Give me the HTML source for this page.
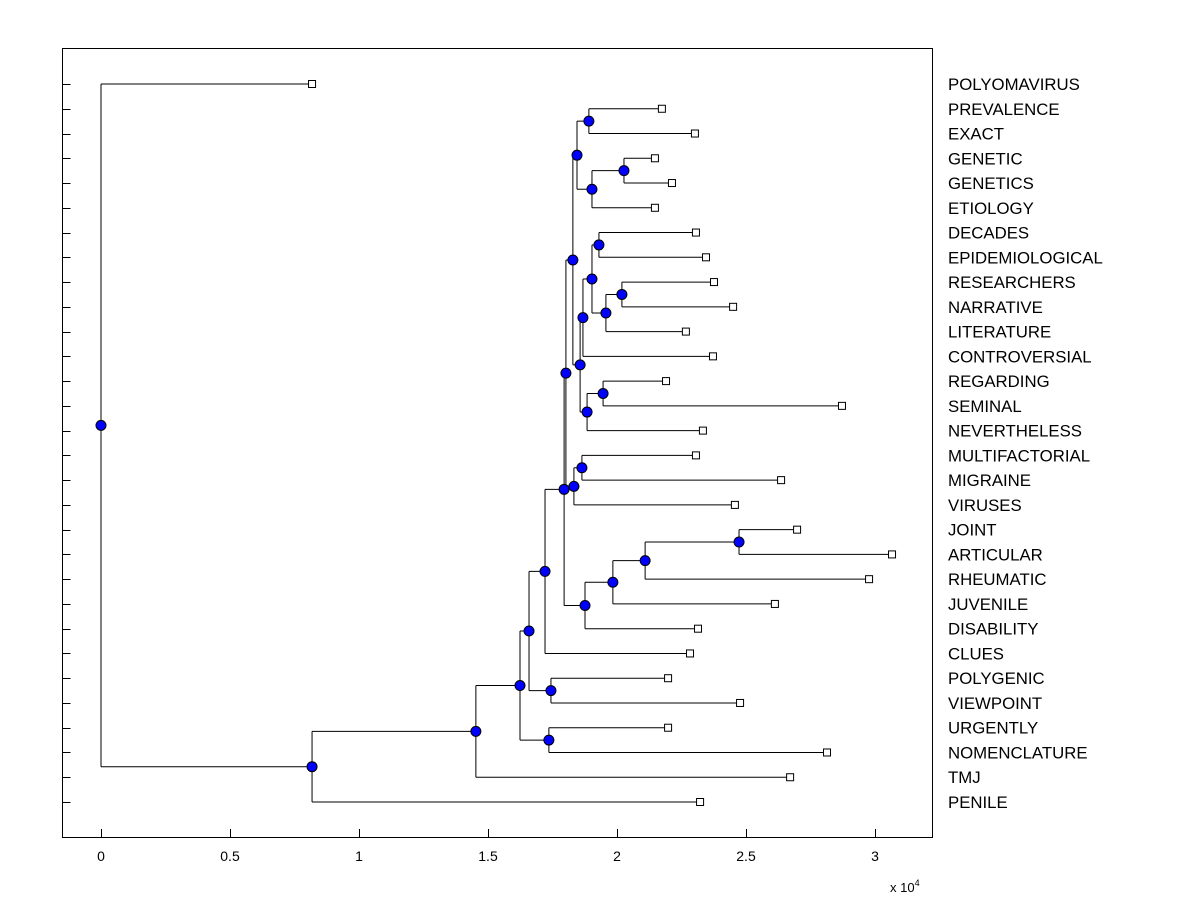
<!DOCTYPE html>
<html><head><meta charset="utf-8"><style>
body{margin:0;background:#fff;}
svg{display:block;font-family:"Liberation Sans",Arial,sans-serif;}
</style></head><body>
<svg id="chart" width="1200" height="900">
<rect x="0" y="0" width="1200" height="900" fill="#fff"/>
<rect x="62.5" y="48.5" width="870" height="789" fill="none" stroke="#000" stroke-width="1"/>
<g id="axes"></g>
<g id="tree"></g>
<g id="marks"></g>
<text x="890" y="892" font-size="13">x 10<tspan dy="-6" font-size="9">4</tspan></text>
</svg>
<script>
const leafNames = ["POLYOMAVIRUS","PREVALENCE","EXACT","GENETIC","GENETICS","ETIOLOGY","DECADES","EPIDEMIOLOGICAL","RESEARCHERS","NARRATIVE","LITERATURE","CONTROVERSIAL","REGARDING","SEMINAL","NEVERTHELESS","MULTIFACTORIAL","MIGRAINE","VIRUSES","JOINT","ARTICULAR","RHEUMATIC","JUVENILE","DISABILITY","CLUES","POLYGENIC","VIEWPOINT","URGENTLY","NOMENCLATURE","TMJ","PENILE"];
const leafValues = [0.818,2.174,2.302,2.147,2.213,2.147,2.306,2.345,2.376,2.450,2.267,2.372,2.190,2.872,2.333,2.306,2.636,2.457,2.698,3.066,2.977,2.612,2.314,2.283,2.198,2.477,2.198,2.814,2.671,2.322];
// merges: [childA, childB, height]; internal node ids start at 30
const mergeA = [3,30,1,32,6,8,35,34,37,12,39,38,33,15,43,42,18,46,47,48,45,50,24,51,26,53,55,56,0];
const mergeB = [4,5,2,31,7,9,10,36,11,13,14,40,41,16,17,44,19,20,21,22,49,23,25,52,27,54,28,29,57];
const mergeH = [2.027,1.903,1.891,1.845,1.930,2.019,1.957,1.903,1.868,1.946,1.884,1.857,1.829,1.864,1.833,1.802,2.473,2.109,1.984,1.876,1.795,1.721,1.744,1.659,1.736,1.624,1.453,0.818,0];
const xTicks = [0,0.5,1,1.5,2,2.5,3];
const xTickLabels = ["0","0.5","1","1.5","2","2.5","3"];
</script>
<script>
const NS="http://www.w3.org/2000/svg";
const X0=101, XS=258, Y0=84, YS=(802-84)/29;
const xs=v=>X0+v*XS, ys=i=>Y0+i*YS;
function mk(tag,attrs,parent){const e=document.createElementNS(NS,tag);for(const k in attrs)e.setAttribute(k,attrs[k]);parent.appendChild(e);return e;}
const axes=document.getElementById('axes'), tree=document.getElementById('tree'), marks=document.getElementById('marks');
leafNames.forEach((n,i)=>{
  const y=Math.round(ys(i))+0.5;
  const t=mk('line',{x1:62.5,x2:70.5,y1:y,y2:y,stroke:'#000'},axes);
  
  
  const l=mk('text',{x:948,y:ys(i)+6,'font-size':16.8},axes);
  l.textContent=n;
  
  
});
xTicks.forEach((v,i)=>{
  const x=Math.round(xs(v))+0.5;
  const t=mk('line',{x1:x,x2:x,y1:837,y2:829,stroke:'#000'},axes);
  
  
  const l=mk('text',{x:xs(v),y:861,'font-size':14,'text-anchor':'middle'},axes);
  l.textContent=xTickLabels[i];
  
  
});
const nx=[], ny=[];
leafValues.forEach((v,i)=>{nx[i]=v;ny[i]=ys(i);});
for(let k=0;k<mergeA.length;k++){
  const id=30+k,a=mergeA[k],b=mergeB[k];
  nx[id]=mergeH[k]; ny[id]=(ny[a]+ny[b])/2;
  const px=xs(mergeH[k]);
  const v=mk('line',{x1:px,x2:px,y1:ny[a],y2:ny[b],stroke:'#000'},tree);
  
  
  [a,b].forEach(c=>{
    const h=mk('line',{x1:px,x2:xs(nx[c]),y1:ny[c],y2:ny[c],stroke:'#000'},tree);
    
    
  });
}
for(let k=0;k<mergeA.length;k++){
  const id=30+k;
  const c=mk('circle',{cx:xs(nx[id]),cy:ny[id],r:5,fill:'#0000ff',stroke:'#000','stroke-width':1},marks);
  
  
}
leafValues.forEach((v,i)=>{
  const r=mk('rect',{x:xs(v)-3.5,y:ys(i)-3.5,width:7,height:7,fill:'#fff',stroke:'#000'},marks);
  
  
});
</script>
</body></html>
